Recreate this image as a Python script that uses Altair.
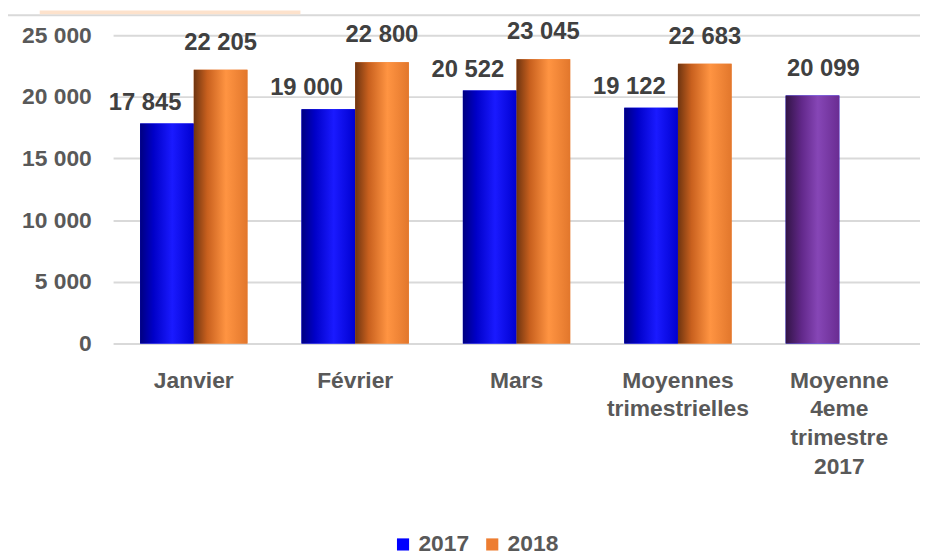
import altair as alt
import pandas as pd

categories = ["Janvier", "Février", "Mars", "Moyennes\ntrimestrielles", "Moyenne\n4eme\ntrimestre\n2017"]
values_2017 = [17845, 19000, 20522, 19122]
values_2018 = [22205, 22800, 23045, 22683]
value_t4_2017 = 20099
series = ["2017", "2018"]
y_ticks = [0, 5000, 10000, 15000, 20000, 25000]

rows = []
for c, v in zip(categories[:4], values_2017):
    rows.append({"categorie": c, "serie": "2017", "kind": "b", "valeur": v})
for c, v in zip(categories[:4], values_2018):
    rows.append({"categorie": c, "serie": "2018", "kind": "o", "valeur": v})
rows.append({"categorie": categories[4], "serie": "2017", "kind": "p", "valeur": value_t4_2017})
df = pd.DataFrame(rows)

FONT = "Liberation Sans"
GRAY = "#595959"

x_enc = alt.X("categorie:N", sort=categories,
              scale=alt.Scale(paddingInner=0.335, paddingOuter=0.1675),
              axis=alt.Axis(title=None, labelAngle=0, labelExpr="split(datum.label, '\\n')",
                            domain=False, ticks=False, labelPadding=26, labelFont=FONT,
                            labelFontSize=23, labelFontWeight="bold", labelColor=GRAY,
                            labelLineHeight=29, labelLimit=300))
xo_enc = alt.XOffset("serie:N", scale=alt.Scale(domain=series, paddingInner=0, paddingOuter=0))
y_enc = alt.Y("valeur:Q", scale=alt.Scale(domain=[0, 25000]),
              axis=alt.Axis(title=None, values=y_ticks,
                            labelExpr="replace(format(datum.value, ','), ',', ' ')", domain=False, ticks=False,
                            labelPadding=22, gridColor="#d9d9d9", gridWidth=2, labelFont=FONT,
                            labelFontSize=23, labelFontWeight="bold", labelColor=GRAY))

base = alt.Chart(df).encode(x=x_enc, xOffset=xo_enc, y=y_enc)

legend_bars = base.mark_bar().encode(
    color=alt.Color("serie:N", scale=alt.Scale(domain=series, range=["#0000ff", "#ed7d31"]),
                    legend=alt.Legend(title=None, orient="none", direction="horizontal",
                                      legendX=281, legendY=502, symbolType="square", symbolSize=150,
                                      labelFont=FONT, labelFontSize=23, labelFontWeight="bold",
                                      labelColor=GRAY, labelOffset=4, columnPadding=11, padding=0,
                                      symbolStrokeWidth=0))
)

def grad(stops):
    return alt.Gradient(gradient="linear", x1=0, x2=1, y1=0, y2=0,
                        stops=[alt.GradientStop(color=c, offset=o) for o, c in stops])

blue = grad([(0, "#000080"), (0.25, "#0000c8"), (0.6, "#1a1aff"), (1, "#0000d0")])
orange = grad([(0, "#6e3410"), (0.25, "#c8601e"), (0.6, "#ff9442"), (1, "#e2772c")])
purple = grad([(0, "#321446"), (0.3, "#62288a"), (0.6, "#8646b6"), (1, "#6a2c92")])

gb = base.mark_bar(color=blue).transform_filter("datum.kind == 'b'")
go = base.mark_bar(color=orange).transform_filter("datum.kind == 'o'")
gp = base.mark_bar(color=purple).transform_filter("datum.kind == 'p'")

lab = base.transform_calculate(txt="replace(format(datum.valeur, ','), ',', ' ')")

def labels(kind, dx, dy):
    return lab.mark_text(font=FONT, fontSize=24, fontWeight="bold", color="#404040",
                         baseline="middle", dx=dx, dy=dy).encode(text="txt:N").transform_filter(
        f"datum.kind == '{kind}'")

tb = labels("b", -22, -21)
to = labels("o", 0, -27)
tp = labels("p", 11, -27)

deco = alt.Chart(alt.Data(values=[{"a": 1}]))
top_line = deco.mark_rule(color="#d9d9d9", strokeWidth=2).encode(
    x=alt.value(-106), x2=alt.value(814), y=alt.value(-20))
peach = deco.mark_rect(color="#fde2cc").encode(
    x=alt.value(-74), x2=alt.value(189), y=alt.value(-25), y2=alt.value(-21))

chart = alt.layer(top_line, peach, legend_bars, gb, go, gp, tb, to, tp).properties(
    width=814, height=311,
    autosize=alt.AutoSizeParams(type="none"),
    padding={"left": 106, "top": 25, "right": 0, "bottom": 213},
).configure_view(stroke=None)

chart.save("out.html", embed_options={"renderer": "svg", "actions": False})
